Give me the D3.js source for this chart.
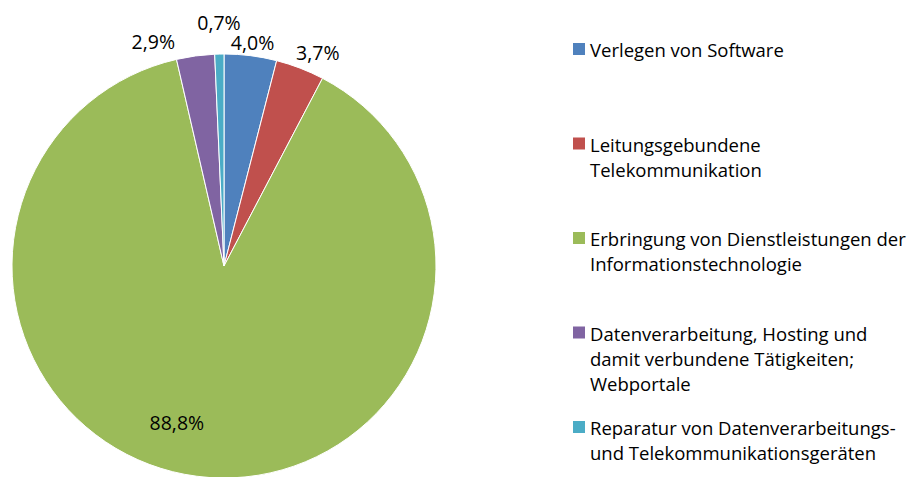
<!DOCTYPE html>
<html>
  <head>
    <meta charset="utf-8">
    <title>Pie</title>
    <script src="https://cdn.jsdelivr.net/npm/d3@7"></script>
    <style>
      body { margin: 0; background: #fff; }
      text { font-family: "Open Sans", Lato, sans-serif; fill: #000; }
    </style>
  </head>
  <body>
    <svg width="909" height="477" id="mainsvg"></svg>
    <script>
      const categories = [
        ['Verlegen von Software'],
        ['Leitungsgebundene', 'Telekommunikation'],
        ['Erbringung von Dienstleistungen der', 'Informationstechnologie'],
        ['Datenverarbeitung, Hosting und', 'damit verbundene Tätigkeiten;', 'Webportale'],
        ['Reparatur von Datenverarbeitungs-', 'und Telekommunikationsgeräten']
      ];
      const values = [4.0, 3.7, 88.8, 2.9, 0.7];
      const labels = ['4,0%', '3,7%', '88,8%', '2,9%', '0,7%'];
      const colors = ['#4f81bd', '#c0504d', '#9bbb59', '#8064a2', '#4bacc6'];

      const svg = d3.select('#mainsvg');
      const cx = 224, cy = 266, radius = 212;
      const legendFont = 18.5;
      const labelFont = 19.5;

      const g = svg.append('g').attr('transform', `translate(${cx}, ${cy})`);

      const pie = d3.pie().sort(null).value(d => d);
      const arcs = pie(values);
      const arc = d3.arc().innerRadius(0).outerRadius(radius);

      g.selectAll('path').data(arcs).join('path')
        .attr('d', arc)
        .attr('fill', (d, i) => colors[i])
        .attr('stroke', '#fff')
        .attr('stroke-width', 1);

      // outside labels for small slices, inside for the big one; nudged like Excel's best fit
      const outerArc = d3.arc().innerRadius(radius + 16).outerRadius(radius + 16);
      const innerArc = d3.arc().innerRadius(radius * 0.74).outerRadius(radius * 0.74);
      const nudge = [[0, 3], [12, -1], [-27, 1], [-40, 1], [0, -16]];

      g.selectAll('text.lbl').data(arcs).join('text')
        .attr('class', 'lbl')
        .attr('font-size', labelFont)
        .attr('text-anchor', 'middle')
        .attr('dominant-baseline', 'central')
        .attr('x', (d, i) => (i === 2 ? innerArc : outerArc).centroid(d)[0] + nudge[i][0])
        .attr('y', (d, i) => (i === 2 ? innerArc : outerArc).centroid(d)[1] + nudge[i][1])
        .text((d, i) => labels[i]);

      // legend
      const legendY = d3.scalePoint()
        .domain(d3.range(categories.length))
        .range([49, 427]);
      const lineH = 25;

      const lg = svg.append('g');
      const item = lg.selectAll('g').data(categories).join('g')
        .attr('transform', (d, i) => `translate(573, ${legendY(i)})`);

      item.append('rect')
        .attr('x', 0).attr('y', -6)
        .attr('width', 12).attr('height', 12)
        .attr('fill', (d, i) => colors[i]);

      item.append('text')
        .attr('font-size', legendFont)
        .attr('dominant-baseline', 'central')
        .selectAll('tspan').data(d => d).join('tspan')
        .attr('x', 17)
        .attr('y', (d, j) => j * lineH)
        .text(d => d);
    </script>
  </body>
</html>
